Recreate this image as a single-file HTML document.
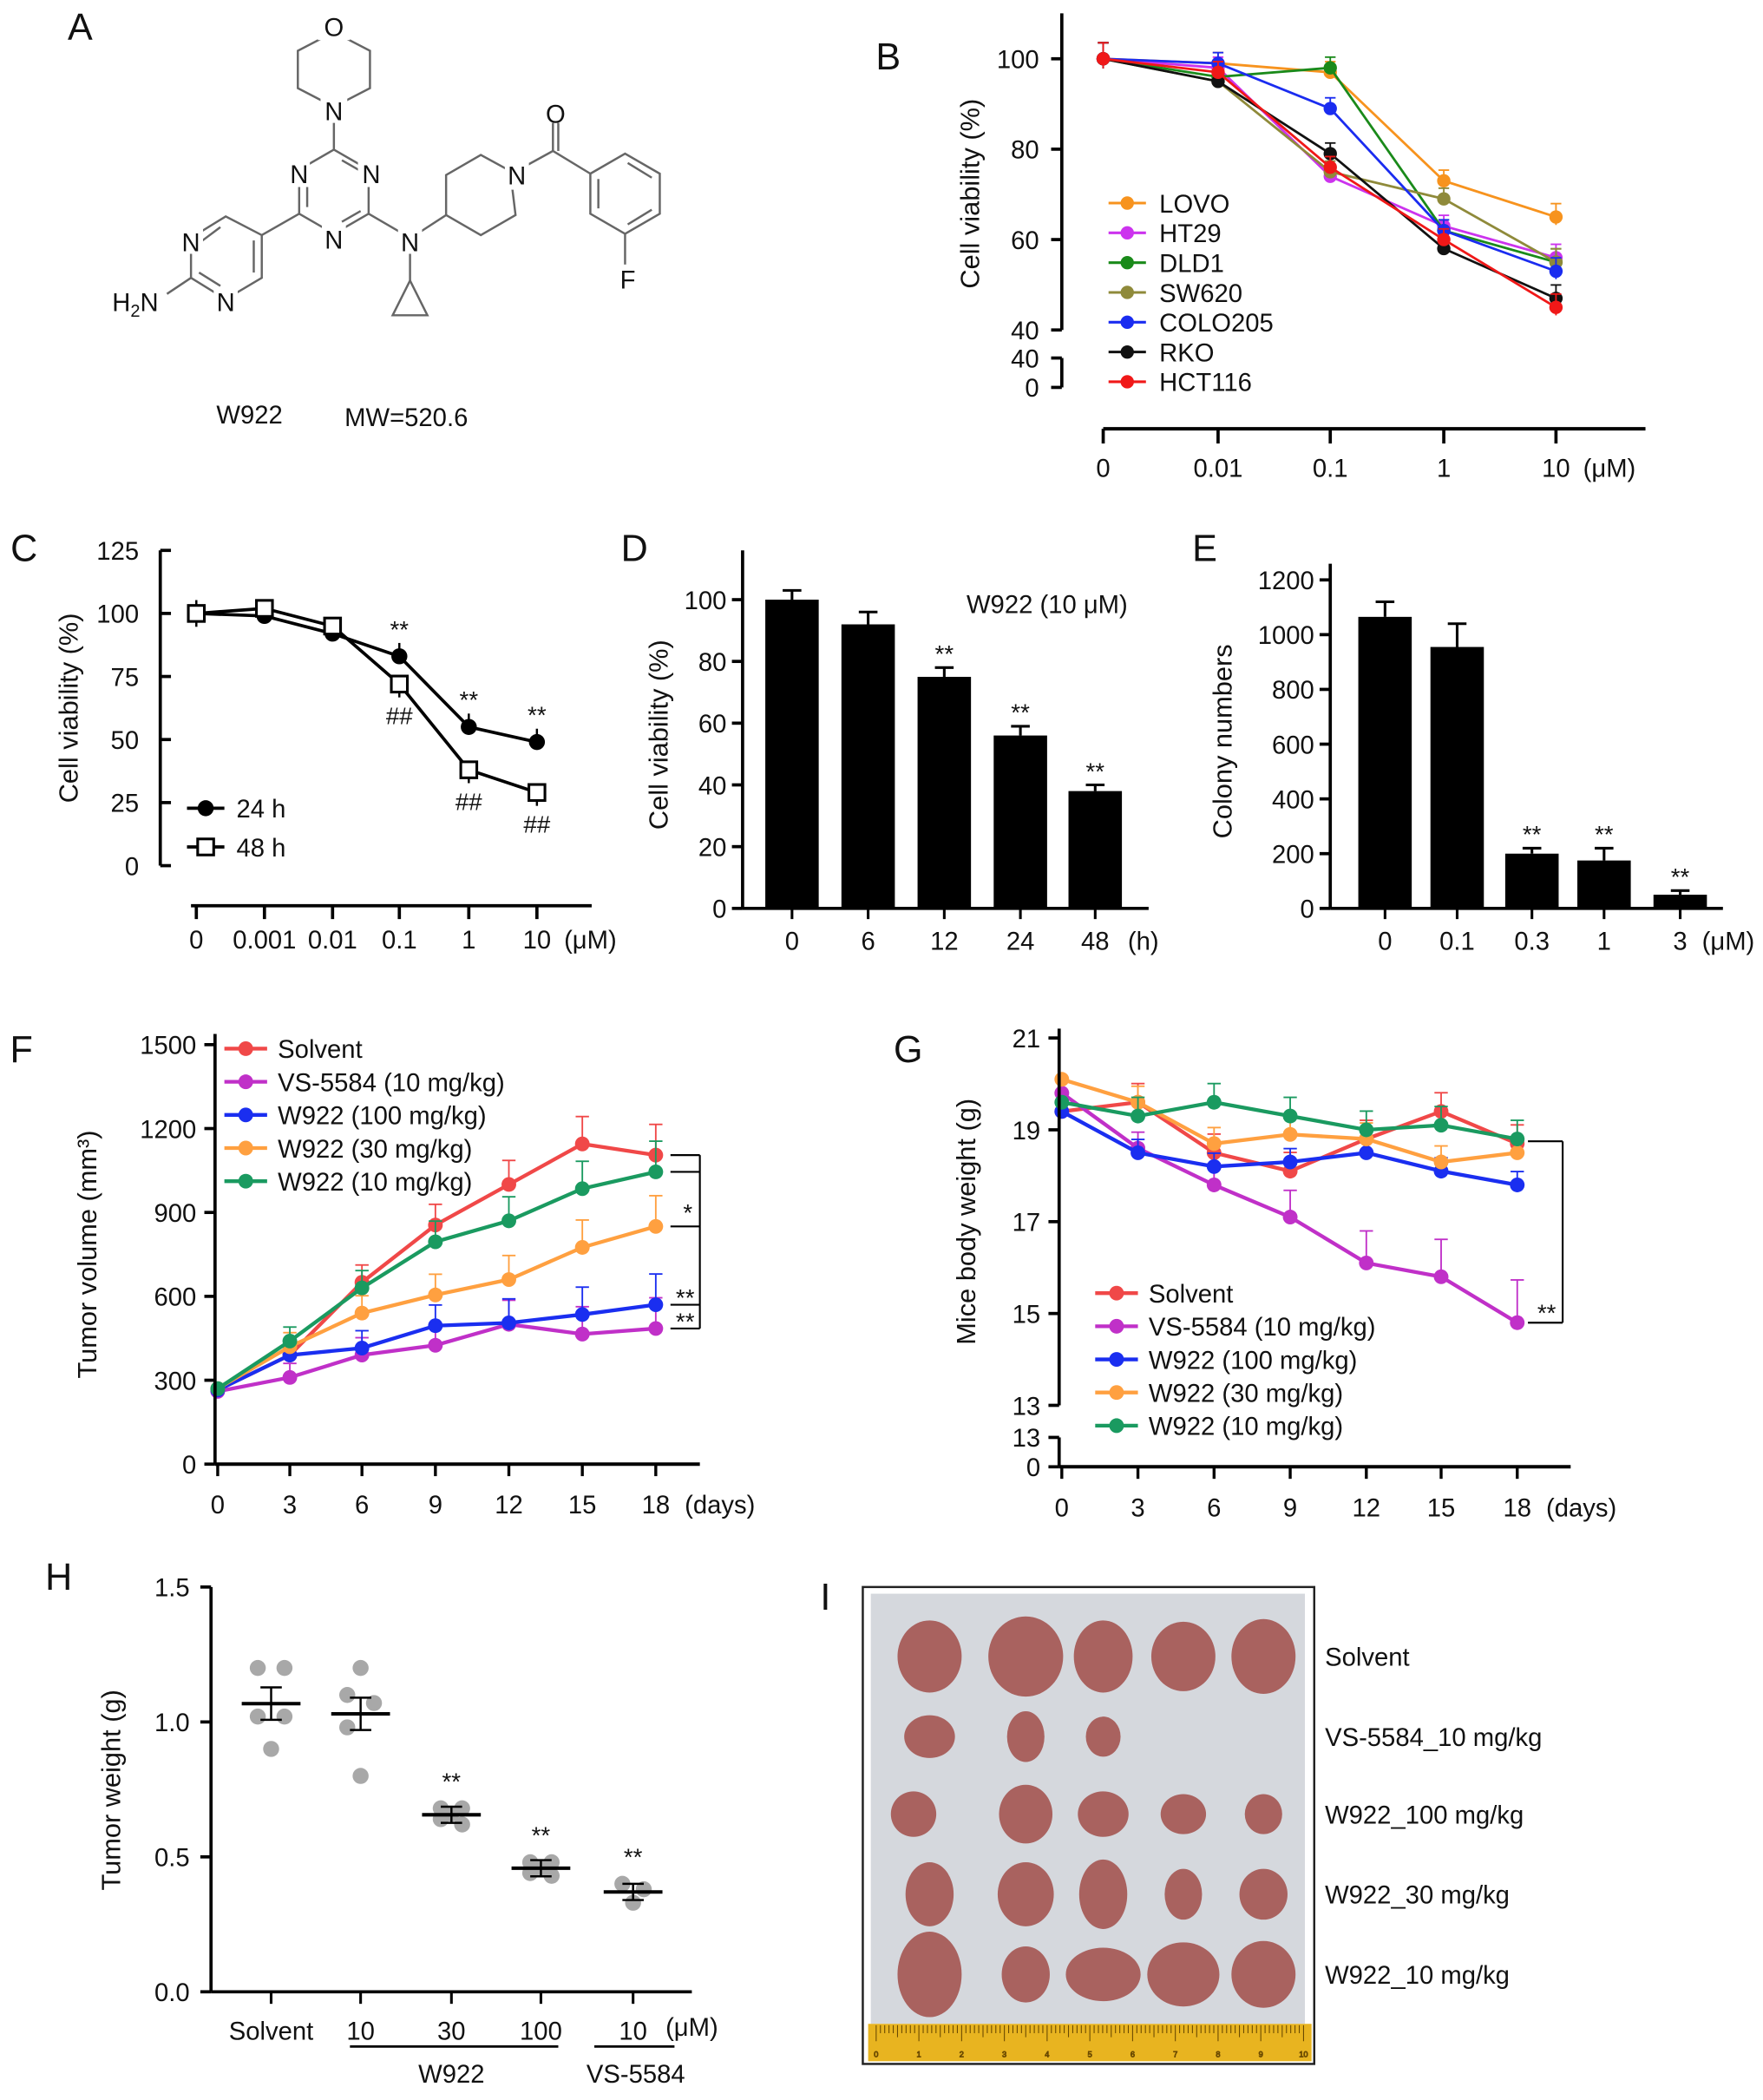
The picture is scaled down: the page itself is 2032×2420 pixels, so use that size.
<!DOCTYPE html>
<html><head><meta charset="utf-8"><style>
html,body{margin:0;padding:0;background:#fff}
svg{display:block}
text{font-family:"Liberation Sans",Arial,sans-serif;fill:#111}
</style></head><body>
<svg id="fig" width="2032" height="2420" viewBox="0 0 1320 1572" preserveAspectRatio="none" xmlns="http://www.w3.org/2000/svg">
<g id="panelA" stroke="#666" stroke-width="1.6" fill="none">
<polygon points="250,24 277,38 277,66 250,80 223,66 223,38"/>
<line x1="250" y1="88" x2="250" y2="112"/>
<polygon points="250,112 276,127 276,160 250,175 224,160 224,127"/>
<line x1="256" y1="120" x2="270" y2="128"/><line x1="270" y1="158" x2="256" y2="166"/><line x1="230" y1="155" x2="230" y2="132"/>
<line x1="224" y1="160" x2="196" y2="176"/>
<polygon points="196,176 196,208 169,224 143,208 143,178 169,162"/>
<line x1="190" y1="180" x2="190" y2="204"/><line x1="149" y1="204" x2="165" y2="214"/><line x1="149" y1="182" x2="165" y2="170"/>
<line x1="143" y1="208" x2="125" y2="220"/>
<line x1="276" y1="160" x2="300" y2="174"/>
<line x1="307" y1="190" x2="307" y2="210"/>
<polygon points="307,210 294,236 320,236"/>
<line x1="314" y1="174" x2="334" y2="161"/>
<polygon points="334,161 334,131 360,116 382,128 386,161 360,176"/>
<line x1="394" y1="124" x2="414" y2="113"/>
<line x1="414" y1="113" x2="414" y2="92"/><line x1="418" y1="113" x2="418" y2="92"/>
<line x1="414" y1="113" x2="442" y2="130"/>
<polygon points="442,130 468,115 494,130 494,160 468,175 442,160"/>
<line x1="448" y1="134" x2="448" y2="156"/><line x1="470" y1="122" x2="488" y2="133"/><line x1="488" y1="157" x2="470" y2="168"/>
<line x1="468" y1="175" x2="468" y2="198"/>
</g>
<g font-size="19">
<rect x="238" y="8" width="24" height="22" fill="#fff"/><text x="250" y="27" text-anchor="middle">O</text>
<rect x="240" y="72" width="20" height="20" fill="#fff"/><text x="250" y="90" text-anchor="middle">N</text>
<rect x="268" y="120" width="18" height="20" fill="#fff"/><text x="278" y="137" text-anchor="middle">N</text>
<rect x="214" y="120" width="18" height="20" fill="#fff"/><text x="224" y="137" text-anchor="middle">N</text>
<rect x="241" y="168" width="18" height="20" fill="#fff"/><text x="250" y="186" text-anchor="middle">N</text>
<rect x="134" y="170" width="18" height="20" fill="#fff"/><text x="143" y="188" text-anchor="middle">N</text>
<rect x="160" y="216" width="18" height="20" fill="#fff"/><text x="169" y="233" text-anchor="middle">N</text>
<text x="84" y="233">H<tspan font-size="13" dy="4">2</tspan><tspan dy="-4">N</tspan></text>
<rect x="298" y="170" width="18" height="20" fill="#fff"/><text x="307" y="188" text-anchor="middle">N</text>
<rect x="378" y="122" width="18" height="20" fill="#fff"/><text x="387" y="138" text-anchor="middle">N</text>
<text x="416" y="92" text-anchor="middle">O</text>
<text x="470" y="216" text-anchor="middle">F</text>
<text x="162" y="317" font-size="19">W922</text>
<text x="258" y="319" font-size="19">MW=520.6</text>
</g>
<g>
<rect x="646" y="1188" width="338" height="357" fill="#fff" stroke="#222" stroke-width="1.6"/>
<rect x="652" y="1193" width="325" height="322" fill="#d5d8dd"/>
<rect x="650" y="1515" width="332" height="28" fill="#e8b420"/>
<g id="ruler" stroke="#6b4a00" stroke-width="0.6"></g>
<g id="tumors"></g>
</g>
<g id="charts"></g>
</svg>
<script>
// ---------- data ----------
const bConc = ["0","0.01","0.1","1","10"];
const bLines = ["LOVO","HT29","DLD1","SW620","COLO205","RKO","HCT116"];
const bColors = ["#f7931e","#cc33ee","#1a8a1a","#8f8a3a","#1a2cf0","#111111","#f01818"];
const bLOVO = [100,99,97,73,65];
const bHT29 = [100,98,74,63,56];
const bDLD1 = [100,96,98,62,55];
const bSW620 = [100,95,75,69,55];
const bCOLO205 = [100,99,89,62,53];
const bRKO = [100,95,79,58,47];
const bHCT116 = [100,97,76,60,45];
const bYTicks = [100,80,60,40];

const cConc = ["0","0.001","0.01","0.1","1","10"];
const c24 = [100,99,92,83,55,49];
const c48 = [100,102,95,72,38,29];
const cYTicks = [0,25,50,75,100,125];

const dTimes = ["0","6","12","24","48"];
const dVals = [100,92,75,56,38];
const dErr = [3,4,3,3,2];
const dYTicks = [0,20,40,60,80,100];

const eConc = ["0","0.1","0.3","1","3"];
const eVals = [1065,955,200,175,50];
const eErr = [55,85,20,45,15];
const eYTicks = [0,200,400,600,800,1000,1200];

const fDays = [0,3,6,9,12,15,18];
const fSolvent = [265,390,650,855,1000,1145,1105];
const fVS = [260,310,390,425,500,465,485];
const fW100 = [265,390,415,495,505,535,570];
const fW30 = [270,420,540,605,660,775,850];
const fW10 = [270,440,630,795,870,985,1045];
const fYTicks = [0,300,600,900,1200,1500];
const groupNames = ["Solvent","VS-5584 (10 mg/kg)","W922 (100 mg/kg)","W922 (30 mg/kg)","W922 (10 mg/kg)"];
const groupColors = ["#f04848","#c030c8","#1a2ef0","#ffa040","#1a9a60"];

const gSolvent = [19.4,19.6,18.5,18.1,18.8,19.4,18.7];
const gVS = [19.8,18.6,17.8,17.1,16.1,15.8,14.8];
const gW100 = [19.4,18.5,18.2,18.3,18.5,18.1,17.8];
const gW30 = [20.1,19.6,18.7,18.9,18.8,18.3,18.5];
const gW10 = [19.6,19.3,19.6,19.3,19.0,19.1,18.8];
const gYTicks = [13,15,17,19,21];

const hGroups = ["Solvent","10","30","100","10"];
const hSolvent = [1.2,1.2,1.02,1.02,0.9];
const hW10 = [1.2,1.1,1.07,0.98,0.8];
const hW30 = [0.68,0.68,0.66,0.64,0.62];
const hW100 = [0.48,0.48,0.46,0.44,0.43];
const hVS = [0.4,0.38,0.33];
const hYTicks = [0.0,0.5,1.0,1.5];

// ---------- helpers ----------
const NS="http://www.w3.org/2000/svg";
const root=document.getElementById('charts');
function el(tag,attrs,parent,txt){const e=document.createElementNS(NS,tag);for(const k in attrs)e.setAttribute(k,attrs[k]);if(txt!==undefined)e.textContent=txt;(parent||root).appendChild(e);return e;}
function line(x1,y1,x2,y2,c,w,p){return el('line',{x1,y1,x2,y2,stroke:c||'#000','stroke-width':w||2.4},p);}
function txt(x,y,s,size,anchor,p,extra){const t=el('text',Object.assign({x,y,'font-size':size||18,'text-anchor':anchor||'middle'},extra||{}),p,s);return t;}
function lin(d0,d1,r0,r1){return v=>r0+(v-d0)/(d1-d0)*(r1-r0);}

// ---------- panel letters ----------
const letters=[["A",60,30],["B",665,52],["C",18,420],["D",475,420],["E",902,420],["F",16,795],["G",680,795],["H",44,1190],["I",618,1205]];
letters.forEach(l=>{const t=txt(l[1],l[2],l[0],28,'middle');

});

// ---------- Panel B ----------
(function(){
const g=el('g',{});


const y=lin(40,100,247,44);
const xs=[826,912,996,1081,1165];
line(795,10,795,247,'#000',2.4,g);
bYTicks.forEach(v=>{line(787,y(v),795,y(v),'#000',2.4,g);txt(778,y(v)+7,String(v),19,'end',g);});
line(795,268,795,290,'#000',2.4,g);line(787,268,795,268,'#000',2.4,g);line(787,290,795,290,'#000',2.4,g);
txt(778,275,"40",19,'end',g);txt(778,297,"0",19,'end',g);
line(826,321,1232,321,'#000',2.6,g);
xs.forEach((x,i)=>{line(x,321,x,332,'#000',2.4,g);});
bConc.forEach((c,i)=>{txt(xs[i],357,c,19,'middle',g);});
txt(1205,357,"(μM)",19,'middle',g);
const yt=txt(0,0,"Cell viability (%)",20,'middle',g,{transform:'translate(733,145) rotate(-90)'});


const series=[bLOVO,bHT29,bDLD1,bSW620,bCOLO205,bRKO,bHCT116];
series.forEach((s,k)=>{
 const pts=s.map((v,i)=>xs[i]+','+y(v)).join(' ');
 const pl=el('polyline',{points:pts,fill:'none',stroke:bColors[k],'stroke-width':1.8},g);
 
 
 s.forEach((v,i)=>{const e=i==0?12:(i==4?10:8);line(xs[i],y(v)-e,xs[i],y(v)+e*0.6,bColors[k],1.2,g);line(xs[i]-4,y(v)-e,xs[i]+4,y(v)-e,bColors[k],1.2,g);
  const c=el('circle',{cx:xs[i],cy:y(v),r:5,fill:bColors[k]},g);
  
  });
 const ly=152+k*22.3;
 line(830,ly,858,ly,bColors[k],2,g);el('circle',{cx:844,cy:ly,r:5,fill:bColors[k]},g);
 const lt=txt(868,ly+7,bLines[k],19,'start',g);
 
 
});
})();

// ---------- Panel C ----------
(function(){
const g=el('g',{});


const y=lin(0,125,648,412);
const xs=[147,198,249,299,351,402];
line(120,412,120,648,'#000',2.4,g);
cYTicks.forEach(v=>{line(120,y(v),128,y(v),'#000',2.4,g);txt(104,y(v)+7,String(v),19,'end',g);});
line(143,678,443,678,'#000',2.4,g);
xs.forEach(x=>line(x,678,x,688,'#000',2.4,g));
cConc.forEach((c,i)=>txt(xs[i],710,c,19,'middle',g));
txt(442,710,"(μM)",19,'middle',g);
const yt=txt(0,0,"Cell viability (%)",20,'middle',g,{transform:'translate(58,530) rotate(-90)'});


const p1=el('polyline',{points:c24.map((v,i)=>xs[i]+','+y(v)).join(' '),fill:'none',stroke:'#000','stroke-width':2.4},g);


const p2=el('polyline',{points:c48.map((v,i)=>xs[i]+','+y(v)).join(' '),fill:'none',stroke:'#000','stroke-width':2.4},g);


c24.forEach((v,i)=>{line(xs[i],y(v)-10,xs[i],y(v)+4,'#000',1.6,g);el('circle',{cx:xs[i],cy:y(v),r:6,fill:'#000'},g);
 if(i>=3)txt(xs[i],y(v)-14,"**",18,'middle',g);});
c48.forEach((v,i)=>{line(xs[i],y(v)-5,xs[i],y(v)+10,'#000',1.6,g);el('rect',{x:xs[i]-6,y:y(v)-6,width:12,height:12,fill:'#fff',stroke:'#000','stroke-width':2},g);
 if(i>=3)txt(xs[i],y(v)+30,"##",18,'middle',g);});
line(140,605,168,605,'#000',2.4,g);el('circle',{cx:154,cy:605,r:6,fill:'#000'},g);txt(177,612,"24 h",19,'start',g);
line(140,634,168,634,'#000',2.4,g);el('rect',{x:148,y:628,width:12,height:12,fill:'#fff',stroke:'#000','stroke-width':2},g);txt(177,641,"48 h",19,'start',g);
})();

// ---------- bar chart helper ----------
function bars(name,labels,vals,errs,ticks,dmax,ax,top,bot,xs,right,unit,unitX,stars,ttl,ttlX){
 const g=el('g',{});
 
 
 const y=lin(0,dmax,bot,top);
 line(ax,top-8,ax,bot,'#000',2.4,g);
 ticks.forEach(v=>{line(ax-8,y(v),ax,y(v),'#000',2.4,g);txt(ax-12,y(v)+7,String(v),19,'end',g);});
 line(ax,bot,right,bot,'#000',2.4,g);
 vals.forEach((v,i)=>{
  line(xs[i],y(v+errs[i]),xs[i],y(v),'#000',2,g);line(xs[i]-7,y(v+errs[i]),xs[i]+7,y(v+errs[i]),'#000',2,g);
  const r=el('rect',{x:xs[i]-20,y:y(v),width:40,height:bot-y(v),fill:'#000'},g);
  
  
  line(xs[i],bot,xs[i],bot+8,'#000',2,g);
  txt(xs[i],bot+31,labels[i],19,'middle',g);
  if(stars[i])txt(xs[i],y(v+errs[i])-4,"**",18,'middle',g);
 });
 txt(unitX,bot+31,unit,19,'middle',g);
 const t=txt(0,0,ttl,20,'middle',g,{transform:'translate('+ttlX+','+((top+bot)/2)+') rotate(-90)'});
 
 
 return g;
}
const gD=bars('panel-d-chart',dTimes,dVals,dErr,dYTicks,112.5,556,420,680,[593,650,707,764,820],860,"(h)",856,[0,0,1,1,1],"Cell viability (%)",500);
txt(784,459,"W922 (10 μM)",19,'middle',gD);
bars('panel-e-chart',eConc,eVals,eErr,eYTicks,1220,996,430,680,[1037,1091,1147,1201,1258],1290,"(μM)",1294,[0,0,1,1,1],"Colony numbers",922);

// ---------- line chart F/G ----------
function tChart(name,seriesArr,y,ax,top,bot,xAxisY,xs,right,ticks,fmt,ttl,ttlX,legX,legY,errScale){
 const g=el('g',{});
 
 
 ticks.forEach(v=>{line(ax-8,y(v),ax,y(v),'#000',2.4,g);txt(ax-14,y(v)+7,fmt(v),19,'end',g);});
 line(ax,xAxisY,right,xAxisY,'#000',2.6,g);
 fDays.forEach((d,i)=>{line(xs[i],xAxisY,xs[i],xAxisY+9,'#000',2.2,g);txt(xs[i],xAxisY+37,String(d),19,'middle',g);});
 txt(xs[6]+48,xAxisY+37,"(days)",19,'middle',g);
 const t=txt(0,0,ttl,20,'middle',g,{transform:'translate('+ttlX+','+((top+bot)/2)+') rotate(-90)'});
 
 
 seriesArr.forEach((s,k)=>{
  const c=groupColors[k];
  s.forEach((v,i)=>{if(i>0){const e=errScale(v,i,k);line(xs[i],y(v),xs[i],y(v)-e,c,1.2,g);line(xs[i]-5,y(v)-e,xs[i]+5,y(v)-e,c,1.2,g);}});
  const pl=el('polyline',{points:s.map((v,i)=>xs[i]+','+y(v)).join(' '),fill:'none',stroke:c,'stroke-width':2.8},g);
  
  
  s.forEach((v,i)=>{el('circle',{cx:xs[i],cy:y(v),r:5.5,fill:c},g);});
  const ly=legY+k*24.8;
  line(legX,ly,legX+32,ly,c,2.8,g);el('circle',{cx:legX+16,cy:ly,r:5.5,fill:c},g);
  const lt=txt(legX+40,ly+7,groupNames[k],19,'start',g);
  
  
 });
 return g;
}
(function(){
 const y=lin(0,1500,1096,782);
 const xs=[163,217,271,326,381,436,491];
 const g=tChart('panel-f-chart',[fSolvent,fVS,fW100,fW30,fW10],y,161,782,1096,1096,xs,524,fYTicks,v=>String(v),"Tumor volume (mm³)",72,168,785,(v,i,k)=>[8,8,8,8,8][k]+i*2.5);
 line(161,774,161,1096,'#000',2.4,g);
 const bx=524;
 line(502,y(1105),bx,y(1105),'#000',1.4,g);line(bx,y(1105),bx,y(485),'#000',1.4,g);
 [1045,850,570,485].forEach(v=>line(502,y(v),bx,y(v),'#000',1.4,g));
 txt(515,y(850)-4,"*",18,'middle',g);txt(513,y(570)+1,"**",18,'middle',g);txt(513,y(485)+1,"**",18,'middle',g);
})();
(function(){
 const y=lin(13,21,1052,777);
 const xs=[795,852,909,966,1023,1079,1136];
 const g=tChart('panel-g-chart',[gSolvent,gVS,gW100,gW30,gW10],y,793,777,1052,1098,xs,1176,gYTicks,v=>String(v),"Mice body weight (g)",730,820,968,(v,i,k)=>[14,8,10,12,14][k]+(k==1?i*4:0));
 line(793,770,793,1052,'#000',2.4,g);
 line(793,1076,793,1098,'#000',2.4,g);line(785,1076,793,1076,'#000',2.4,g);line(785,1098,793,1098,'#000',2.4,g);
 txt(779,1083,"13",19,'end',g);txt(779,1105,"0",19,'end',g);
 const bx=1170;
 line(1144,y(18.75),bx,y(18.75),'#000',1.4,g);line(bx,y(18.75),bx,y(14.8),'#000',1.4,g);line(1144,y(14.8),bx,y(14.8),'#000',1.4,g);
 txt(1158,y(14.8)-1,"**",18,'middle',g);
})();

// ---------- Panel H ----------
(function(){
 const g=el('g',{});
 
 
 const y=lin(0,1.5,1491,1188);
 const xs=[203,270,338,405,474];
 line(158,1188,158,1491,'#000',2.4,g);
 hYTicks.forEach(v=>{line(150,y(v),158,y(v),'#000',2.4,g);txt(142,y(v)+7,v.toFixed(1),19,'end',g);});
 line(158,1491,518,1491,'#000',2.4,g);
 xs.forEach((x,i)=>{line(x,1491,x,1500,'#000',2,g);txt(x,1527,hGroups[i],19,'middle',g);});
 txt(518,1524,"(μM)",19,'middle',g);
 line(262,1532,418,1532,'#000',1.8,g);txt(338,1559,"W922",19,'middle',g);
 line(445,1532,505,1532,'#000',1.8,g);txt(476,1559,"VS-5584",19,'middle',g);
 const t=txt(0,0,"Tumor weight (g)",20,'middle',g,{transform:'translate(90,1340) rotate(-90)'});
 
 
 const groups=[hSolvent,hW10,hW30,hW100,hVS];
 const offs=[[-10,10,-10,10,0],[0,-10,10,-10,0],[-8,8,0,-8,8],[-8,8,0,-8,8],[-8,8,0]];
 groups.forEach((arr,k)=>{
  const mean=arr.reduce((a,b)=>a+b,0)/arr.length;
  arr.forEach((v,i)=>{const c=el('circle',{cx:xs[k]+offs[k][i],cy:y(v),r:6,fill:'#a8a8a8'},g);
   
   });
  line(xs[k]-22,y(mean),xs[k]+22,y(mean),'#000',2.6,g);
  const se=0.03+ (k<2?0.03:0);
  line(xs[k],y(mean+se),xs[k],y(mean-se),'#000',1.6,g);
  line(xs[k]-8,y(mean+se),xs[k]+8,y(mean+se),'#000',1.6,g);line(xs[k]-8,y(mean-se),xs[k]+8,y(mean-se),'#000',1.6,g);
  if(k>=2)txt(xs[k],y(Math.max(...arr))-14,"**",18,'middle',g);
 });
})();

// ---------- Panel I ----------
(function(){
 const rg=document.getElementById('ruler');
 for(let i=0;i<=100;i++){const x=656+i*3.2;const h=i%10==0?12:(i%5==0?9:6);line(x,1516,x,1516+h,'#6b4a00',0.7,rg);}
 for(let i=0;i<=10;i++){txt(656+i*32,1540,String(i),6,'middle',rg);}
 const tg=document.getElementById('tumors');
 const rows=[1240,1300,1358,1418,1478];
 const cols=[696,768,826,886,946];
 const sizes=[[[24,27],[28,30],[22,27],[24,26],[24,28]],[[19,16],[14,19],[13,15]],[[17,17],[20,22],[19,17],[17,15],[14,15]],[[18,24],[21,24],[18,26],[14,19],[18,19]],[[24,32],[18,21],[28,20],[27,24],[24,25]]];
 const names=["Solvent","VS-5584_10 mg/kg","W922_100 mg/kg","W922_30 mg/kg","W922_10 mg/kg"];
 rows.forEach((ry,r)=>{
  sizes[r].forEach((s,c)=>{const e=el('ellipse',{cx:cols[c]-(r==2&&c==0?12:0),cy:ry,rx:s[0],ry:s[1],fill:'#a9625f'},tg);
   
   });
  const t=txt(992,ry+7,names[r],19,'start');
  
  
 });
})();
</script>
</body></html>
